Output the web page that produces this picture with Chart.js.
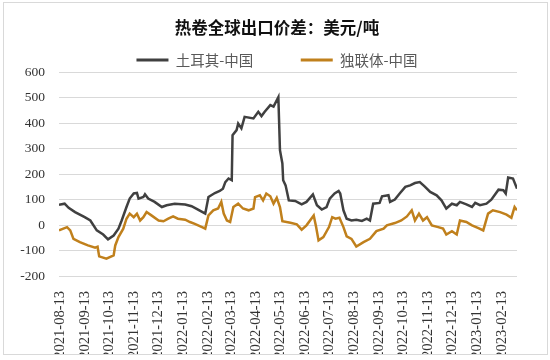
<!DOCTYPE html>
<html>
<head>
<meta charset="utf-8">
<script src="https://cdn.jsdelivr.net/npm/chart.js@4.4.1/dist/chart.umd.min.js"></script>
<style>
  body { margin: 0; background: #fff; overflow: hidden; }
  #frame { position: absolute; left: 3px; top: 2px; width: 543px; height: 351px; border: 1px solid #d9d9d9; }
  #wrap { position: absolute; left: 0; top: 0; width: 550px; height: 360px; }
</style>
</head>
<body>
<div id="frame"></div>
<div id="wrap"><canvas id="lineChart"></canvas></div>
<script>
const tickDates = ['2021-08-13', '2021-09-13', '2021-10-13', '2021-11-13', '2021-12-13',
    '2022-01-13', '2022-02-13', '2022-03-13', '2022-04-13', '2022-05-13', '2022-06-13',
    '2022-07-13', '2022-08-13', '2022-09-13', '2022-10-13', '2022-11-13', '2022-12-13',
    '2023-01-13', '2023-02-13'];

// 土耳其-中国
const turkeyDates = ['2021-08-11', '2021-08-18', '2021-08-23', '2021-08-31', '2021-09-12', '2021-09-19',
    '2021-09-27', '2021-10-05', '2021-10-11', '2021-10-18', '2021-10-24', '2021-10-28', '2021-11-03',
    '2021-11-07', '2021-11-12', '2021-11-16', '2021-11-18', '2021-11-24', '2021-11-26', '2021-11-30',
    '2021-12-08', '2021-12-17', '2021-12-23', '2022-01-02', '2022-01-15', '2022-01-23', '2022-01-31',
    '2022-02-09', '2022-02-13', '2022-02-21', '2022-02-27', '2022-03-03', '2022-03-06', '2022-03-10',
    '2022-03-14', '2022-03-15', '2022-03-20', '2022-03-22', '2022-03-26', '2022-03-30', '2022-04-10',
    '2022-04-16', '2022-04-20', '2022-04-24', '2022-05-01', '2022-05-05', '2022-05-11', '2022-05-13',
    '2022-05-16', '2022-05-17', '2022-05-20', '2022-05-24', '2022-06-01', '2022-06-09', '2022-06-15',
    '2022-06-23', '2022-06-28', '2022-07-04', '2022-07-10', '2022-07-14', '2022-07-20', '2022-07-25',
    '2022-07-27', '2022-07-31', '2022-08-04', '2022-08-10', '2022-08-16', '2022-08-23', '2022-08-29',
    '2022-09-02', '2022-09-06', '2022-09-14', '2022-09-17', '2022-09-25', '2022-09-27', '2022-10-03',
    '2022-10-09', '2022-10-16', '2022-10-22', '2022-10-28', '2022-11-03', '2022-11-09', '2022-11-16',
    '2022-11-24', '2022-11-30', '2022-12-06', '2022-12-13', '2022-12-19', '2022-12-23', '2022-12-31',
    '2023-01-07', '2023-01-11', '2023-01-17', '2023-01-25', '2023-01-31', '2023-02-09', '2023-02-15',
    '2023-02-18', '2023-02-21', '2023-02-27', '2023-03-04'];
const turkeyValues = [80, 84, 68, 51, 31, 18,
    -21, -37, -56, -41, -14, 18, 71,
    104, 124, 126, 104, 110, 121, 104,
    91, 71, 78, 84, 81, 74, 61,
    45, 110, 126, 134, 143, 169, 183,
    176, 353, 373, 399, 380, 425, 419,
    445, 428, 445, 471, 465, 502, 294,
    242, 176, 156, 97, 95, 81, 91,
    120, 78, 61, 71, 104, 124, 134,
    124, 58, 25, 18, 21, 16, 25,
    18, 84, 87, 113, 117, 91, 100,
    124, 150, 156, 165, 169, 152, 130,
    117, 97, 65, 84, 78, 91, 81,
    71, 87, 78, 84, 100, 139, 137,
    124, 187, 183, 143];

// 独联体-中国
const cisDates = ['2021-08-11', '2021-08-21', '2021-08-25', '2021-08-29', '2021-09-06', '2021-09-16',
    '2021-09-25', '2021-09-28', '2021-09-30', '2021-10-09', '2021-10-18', '2021-10-20', '2021-10-24',
    '2021-10-30', '2021-11-03', '2021-11-07', '2021-11-12', '2021-11-16', '2021-11-20', '2021-11-24',
    '2021-11-28', '2021-12-04', '2021-12-13', '2021-12-19', '2021-12-25', '2021-12-31', '2022-01-06',
    '2022-01-15', '2022-01-21', '2022-01-27', '2022-02-05', '2022-02-09', '2022-02-13', '2022-02-19',
    '2022-02-25', '2022-03-01', '2022-03-04', '2022-03-08', '2022-03-12', '2022-03-16', '2022-03-22',
    '2022-03-28', '2022-04-04', '2022-04-10', '2022-04-12', '2022-04-18', '2022-04-22', '2022-04-26',
    '2022-05-01', '2022-05-05', '2022-05-09', '2022-05-13', '2022-05-16', '2022-05-26', '2022-06-03',
    '2022-06-09', '2022-06-15', '2022-06-24', '2022-06-27', '2022-06-30', '2022-07-06', '2022-07-13',
    '2022-07-17', '2022-07-21', '2022-07-26', '2022-07-31', '2022-08-04', '2022-08-10', '2022-08-16',
    '2022-08-25', '2022-09-02', '2022-09-10', '2022-09-19', '2022-09-23', '2022-10-03', '2022-10-11',
    '2022-10-18', '2022-10-24', '2022-10-28', '2022-11-02', '2022-11-07', '2022-11-12', '2022-11-18',
    '2022-11-26', '2022-12-02', '2022-12-06', '2022-12-13', '2022-12-19', '2022-12-23', '2022-12-31',
    '2023-01-07', '2023-01-15', '2023-01-21', '2023-01-27', '2023-02-02', '2023-02-11', '2023-02-19',
    '2023-02-25', '2023-03-01', '2023-03-04'];
const cisValues = [-21, -8, -21, -54, -67, -80,
    -89, -85, -123, -132, -119, -80, -47,
    -14, 25, 45, 31, 45, 18, 31,
    51, 38, 18, 15, 25, 34, 25,
    21, 12, 5, -8, -14, 38, 58,
    65, 91, 45, 18, 12, 71, 84,
    65, 58, 65, 110, 117, 97, 124,
    113, 84, 107, 71, 15, 9, 3,
    -18, -1, 38, -8, -60, -47, -8,
    31, 25, 29, -8, -44, -54, -84,
    -67, -54, -24, -14, -1, 8, 18,
    34, 58, 18, 45, 18, 31, -1,
    -8, -14, -37, -24, -37, 18, 12,
    -1, -12, -21, 45, 58, 51, 41,
    29, 71, 58];

const yTicks = [-200, -100, 0, 100, 200, 300, 400, 500, 600];

const startDay = Date.parse(tickDates[0]);
function dayOf(s) {
    return Math.round((Date.parse(s) - startDay) / 86400000);
}
function dateOf(d) {
    return new Date(startDay + d * 86400000).toISOString().slice(0, 10);
}
function toPoints(dates, values) {
    return dates.map((d, i) => ({x: dayOf(d), y: values[i]}));
}

// legend box is a bit tighter than Chart.js makes it
const legendTrim = {
    id: 'legendTrim',
    beforeLayout(chart) {
        const legend = chart.legend;
        if (legend && !legend._trimmed) {
            const fit = legend.fit;
            legend.fit = function() {
                fit.call(this);
                this.height -= 5;
            };
            legend._trimmed = true;
        }
    }
};

const serif = "'Liberation Serif', 'Times New Roman', serif";

const ctx = document.getElementById('lineChart').getContext('2d');
const lineChart = new Chart(ctx, {
    type: 'line',
    data: {
        datasets: [{
            label: '土耳其-中国',
            data: toPoints(turkeyDates, turkeyValues),
            borderColor: '#404040',
            backgroundColor: '#404040',
            borderWidth: 2.5,
            pointRadius: 0,
            tension: 0
        }, {
            label: '独联体-中国',
            data: toPoints(cisDates, cisValues),
            borderColor: '#c0801c',
            backgroundColor: '#c0801c',
            borderWidth: 2.5,
            pointRadius: 0,
            tension: 0
        }]
    },
    options: {
        responsive: true,
        maintainAspectRatio: false,
        animation: false,
        layout: {padding: {left: 4, right: 0, top: 0, bottom: 6}},
        plugins: {
            title: {
                display: true,
                text: '热卷全球出口价差：美元/吨',
                color: '#111',
                font: {family: "'Noto Sans CJK SC'", size: 16.5, weight: 'bold'},
                padding: {top: 18, bottom: 11}
            },
            legend: {
                position: 'top',
                labels: {
                    color: '#595959',
                    font: {family: "'Noto Sans CJK SC'", size: 14.5},
                    boxWidth: 32,
                    boxHeight: 3,
                    padding: 4,
                    generateLabels: function(chart) {
                        const items = Chart.defaults.plugins.legend.labels.generateLabels(chart);
                        return items.map((item, i) => Object.assign(item, {
                            lineWidth: 0,
                            text: i === 0 ? item.text + '\u3000\u3000\u3000' : item.text
                        }));
                    }
                }
            },
            tooltip: {enabled: false}
        },
        scales: {
            x: {
                type: 'linear',
                min: dayOf(turkeyDates[0]),
                max: dayOf(turkeyDates[turkeyDates.length - 1]),
                afterBuildTicks: function(axis) {
                    axis.ticks = tickDates.map(d => ({value: dayOf(d)}));
                },
                afterFit: function(axis) {
                    axis.height = 78;
                },
                grid: {display: false},
                border: {display: false},
                ticks: {
                    autoSkip: false,
                    maxRotation: 90,
                    minRotation: 90,
                    padding: 7,
                    color: '#333',
                    font: {family: serif, size: 14.5},
                    callback: function(value) {
                        return dateOf(value);
                    }
                }
            },
            y: {
                min: -200,
                max: 600,
                afterBuildTicks: function(axis) {
                    axis.ticks = yTicks.map(v => ({value: v}));
                },
                afterFit: function(axis) {
                    axis.width = 55;
                },
                grid: {color: '#d9d9d9', lineWidth: 1, drawTicks: false},
                border: {display: false},
                ticks: {
                    padding: 14,
                    color: '#333',
                    font: {family: serif, size: 13.5}
                }
            },
            // empty margin on the right so the plot stops where the original does
            yRight: {
                position: 'right',
                min: -200,
                max: 600,
                afterFit: function(axis) {
                    axis.width = 33;
                },
                grid: {display: false},
                border: {display: false},
                ticks: {display: false}
            }
        }
    },
    plugins: [legendTrim]
});
</script>
</body>
</html>
